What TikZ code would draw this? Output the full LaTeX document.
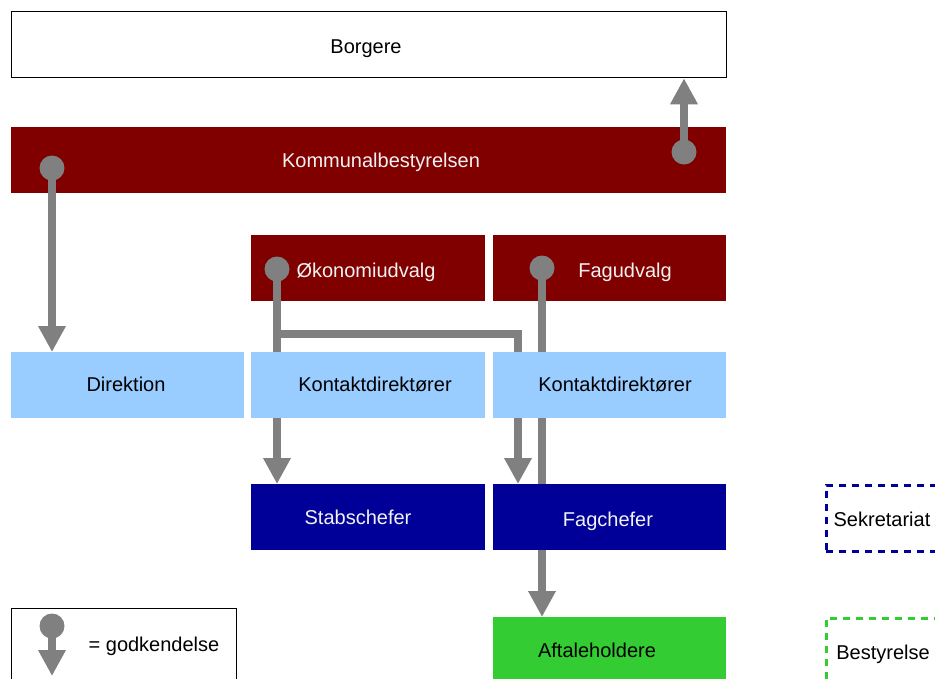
\documentclass[tikz,border=0pt]{standalone}
\usepackage{fontspec}
\setmainfont{Liberation Sans}
\usetikzlibrary{arrows.meta}
\definecolor{kred}{HTML}{800000}
\definecolor{klblue}{HTML}{99CCFF}
\definecolor{kdblue}{HTML}{000099}
\definecolor{kgreen}{HTML}{33CC33}
\definecolor{kgrey}{HTML}{808080}
\tikzset{
  box/.style={rectangle, inner sep=0pt, anchor=north west},
  txt/.style={anchor=base, inner sep=0pt, font=\fontsize{20pt}{24pt}\selectfont},
  flow/.style={draw=kgrey, line width=8pt, -{Triangle[width=26pt,length=26pt]}},
  dot/.style={fill=kgrey}
}
\begin{document}
\begin{tikzpicture}[x=1pt,y=-1pt]
\useasboundingbox (0,0) rectangle (935,678);
% top boxes
\node[box, draw=black, line width=1.3pt, fill=white, minimum width=715pt, minimum height=66pt] (borgere) at (11,11) {};
\node[txt] (borgere-t) at (366,53) {Borgere};
\node[box, fill=kred, minimum width=715pt, minimum height=66pt] (kb) at (11,127) {};
\node[txt, text=white!95!black] (kb-t) at (381,167) {Kommunalbestyrelsen};
\node[box, fill=kred, minimum width=234pt, minimum height=66pt] (oek) at (251,235) {};
\node[txt, text=white!95!black] (oek-t) at (366,277) {Økonomiudvalg};
\node[box, fill=kred, minimum width=233pt, minimum height=66pt] (fag) at (493,235) {};
\node[txt, text=white!95!black] (fag-t) at (625,277) {Fagudvalg};
% Kommunalbestyrelsen arrows
\coordinate (c1) at (52,168);
\coordinate (c2) at (684,152);
\draw[flow] (c1) -- (c1 |- 0,352);
\fill[dot] (c1) circle (12.5pt);
\draw[flow] (c2) -- (c2 |- borgere.south);
\fill[dot] (c2) circle (12.5pt);
% Okonomiudvalg arrows
\coordinate (c3) at (277,269);
\coordinate (j1) at (277,334);
\coordinate (j2) at (518,334);
\draw[flow] (c3) -- (277,484);
\draw[flow] (j1) -- (j2) -- (518,484);
\fill[dot] (c3) circle (12.5pt);
% Fagudvalg arrow
\coordinate (c4) at (542,268);
\draw[flow] (c4) -- (542,617);
\fill[dot] (c4) circle (12.5pt);
% middle boxes
\node[box, fill=klblue, minimum width=233pt, minimum height=66pt] (dir) at (11,352) {};
\node[txt] (dir-t) at (126,391) {Direktion};
\node[box, fill=klblue, minimum width=234pt, minimum height=66pt] (kd1) at (251,352) {};
\node[txt] (kd1-t) at (375,391) {Kontaktdirektører};
\node[box, fill=klblue, minimum width=233pt, minimum height=66pt] (kd2) at (493,352) {};
\node[txt] (kd2-t) at (615,391) {Kontaktdirektører};
% lower boxes
\node[box, fill=kdblue, minimum width=234pt, minimum height=66pt] (stab) at (251,484) {};
\node[txt, text=white!95!black] (stab-t) at (358,524) {Stabschefer};
\node[box, fill=kdblue, minimum width=233pt, minimum height=66pt] (fagch) at (493,484) {};
\node[txt, text=white!95!black] (fagch-t) at (608,526) {Fagchefer};
\node[box, fill=kgreen, minimum width=233pt, minimum height=70pt] (aft) at (493,617) {};
\node[txt] (aft-t) at (597,657) {Aftaleholdere};
% dashed legend boxes
\node[box, draw=kdblue, line width=2.5pt, dash pattern=on 7pt off 6pt, minimum width=120pt, minimum height=66pt] (sek) at (825,484) {};
\node[txt] (sek-t) at (882,526) {Sekretariat};
\node[box, draw=kgreen, line width=2.5pt, dash pattern=on 7pt off 6pt, minimum width=120pt, minimum height=70pt] (best) at (825,617) {};
\node[txt] (best-t) at (883,659) {Bestyrelse};
% key
\node[box, draw=black, line width=1.3pt, minimum width=225pt, minimum height=80pt] (key) at (11,608) {};
\coordinate (c5) at (52,626);
\draw[flow] (c5) -- (52,676);
\fill[dot] (c5) circle (12.5pt);
\node[txt] (key-t) at (154,651) {= godkendelse};
\end{tikzpicture}
\end{document}
